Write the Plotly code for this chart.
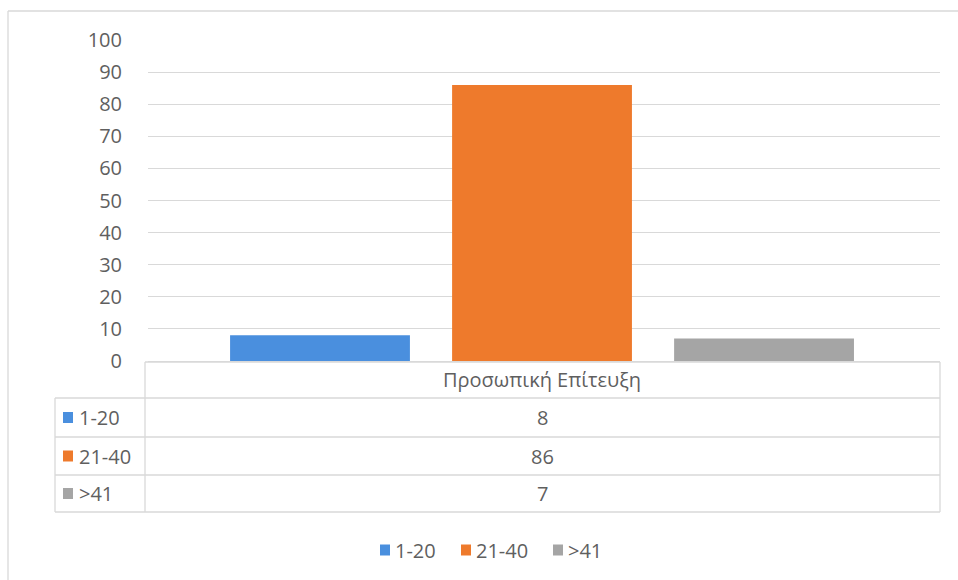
import plotly.graph_objects as go

# ---- data -------------------------------------------------------------
category = ["Προσωπική Επίτευξη"]
series_names = ["1-20", "21-40", ">41"]
series_values = [8, 86, 7]
series_colors = ["#4A8FDE", "#EE7A2C", "#A5A5A5"]
y_ticks = [0, 10, 20, 30, 40, 50, 60, 70, 80, 90, 100]

# ---- page geometry (pixels) -------------------------------------------
W, H = 958, 580
PL, PR, PT, PB = 148, 940, 40, 361          # plot area edges
TXT = "#5f5f5f"
GRID = "#D9D9D9"
FONT = "Open Sans"
FS = 20


def fx(p):
    """pixel x -> paper x"""
    return (p - PL) / (PR - PL)


def fy(p):
    """pixel y -> paper y"""
    return (PB - p) / (PB - PT)


fig = go.Figure()
for name, val, col in zip(series_names, series_values, series_colors):
    fig.add_trace(go.Bar(
        x=category, y=[val], name=name,
        marker=dict(color=col, line=dict(width=0)),
        showlegend=False,
    ))

shapes = []
annotations = []


def hline(y, x0, x1):
    shapes.append(dict(type="line", xref="paper", yref="paper",
                       x0=fx(x0), x1=fx(x1), y0=fy(y), y1=fy(y),
                       line=dict(color=GRID, width=1.3)))


def vline(x, y0, y1):
    shapes.append(dict(type="line", xref="paper", yref="paper",
                       x0=fx(x), x1=fx(x), y0=fy(y0), y1=fy(y1),
                       line=dict(color=GRID, width=1.3)))


def square(cx, cy, col, w=10, h=11):
    shapes.append(dict(type="rect", xref="paper", yref="paper",
                       x0=fx(cx - w / 2), x1=fx(cx + w / 2),
                       y0=fy(cy + h / 2), y1=fy(cy - h / 2),
                       fillcolor=col, line=dict(width=0)))


# outer chart frame
hline(11, 8, 960)
vline(8, 11, 582)

# data table below the plot
row_lines = [362, 398, 437, 475, 512]
hline(row_lines[0], 145, PR)
for y in row_lines[1:]:
    hline(y, 55, PR)
vline(145, row_lines[0], row_lines[-1])
vline(PR, row_lines[0], row_lines[-1])
vline(55, row_lines[1], row_lines[-1])

# table header = category label
annotations.append(dict(
    x=category[0], xref="x", y=fy((row_lines[0] + row_lines[1]) / 2), yref="paper",
    text=category[0], showarrow=False, xanchor="center", yanchor="middle",
    font=dict(family=FONT, size=FS, color=TXT)))

# table rows: series key + value
for i, (name, val, col) in enumerate(zip(series_names, series_values, series_colors)):
    cy = (row_lines[i + 1] + row_lines[i + 2]) / 2
    square(68, cy, col)
    annotations.append(dict(
        x=fx(77), xref="paper", y=fy(cy), yref="paper", text=name,
        showarrow=False, xanchor="left", yanchor="middle",
        font=dict(family=FONT, size=FS, color=TXT)))
    annotations.append(dict(
        x=category[0], xref="x", y=fy(cy), yref="paper", text=str(val),
        showarrow=False, xanchor="center", yanchor="middle",
        font=dict(family=FONT, size=FS, color=TXT)))

# bottom legend
leg_y = 550
leg_x = [385, 466, 558]
for name, col, lx in zip(series_names, series_colors, leg_x):
    square(lx, leg_y, col)
    annotations.append(dict(
        x=fx(lx + 8), xref="paper", y=fy(leg_y), yref="paper", text=name,
        showarrow=False, xanchor="left", yanchor="middle",
        font=dict(family=FONT, size=FS, color=TXT)))

fig.update_layout(
    width=W, height=H,
    margin=dict(l=PL, r=W - PR, t=PT, b=H - PB, pad=0),
    paper_bgcolor="white", plot_bgcolor="white",
    barmode="group", bargap=0.159, bargroupgap=0.19,
    shapes=shapes, annotations=annotations,
    showlegend=False,
    xaxis=dict(type="category", showticklabels=False, showgrid=False,
               zeroline=False, showline=False, ticks="",
               range=[-0.4975, 0.5025]),
    yaxis=dict(range=[0, 100], tickvals=y_ticks, showgrid=True,
               gridcolor=GRID, gridwidth=1.3, zeroline=True,
               zerolinecolor=GRID, zerolinewidth=1.3, showline=False,
               ticks="", ticklabelstandoff=25,
               tickfont=dict(family=FONT, size=FS, color=TXT)),
)

fig.write_html("out.html")
